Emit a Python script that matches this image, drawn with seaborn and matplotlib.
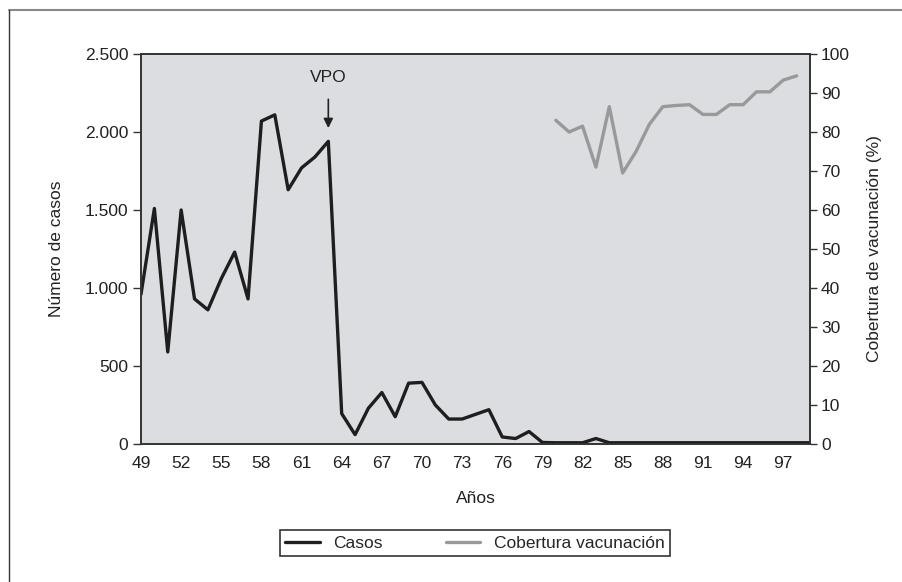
import matplotlib
matplotlib.use("Agg")
import matplotlib.pyplot as plt
from matplotlib.lines import Line2D
import seaborn as sns
import pandas as pd

# ---- data ----
years_casos = list(range(49, 100))
casos = [960, 1510, 590, 1500, 930, 860, 1060, 1230, 930, 2070,
         2110, 1630, 1770, 1840, 1940, 195, 60, 230, 330, 175,
         390, 395, 250, 160, 160, 190, 220, 45, 35, 80,
         10, 8, 8, 8, 35, 8, 8, 8, 8, 8,
         8, 8, 8, 8, 8, 8, 8, 8, 8, 8, 8]
years_vac = list(range(80, 99))
cobertura = [83, 80, 81.5, 71, 86.5, 69.5, 75, 82, 86.5, 86.8,
             87, 84.5, 84.5, 87, 87, 90.3, 90.3, 93.3, 94.4]
left_ticks = [0, 500, 1000, 1500, 2000, 2500]
left_labels = ["0", "500", "1.000", "1.500", "2.000", "2.500"]
x_label_years = list(range(49, 98, 3))

df_c = pd.DataFrame({"year": years_casos, "casos": casos})
df_v = pd.DataFrame({"year": years_vac, "cob": cobertura})

sns.set_theme(style="white")
plt.rcParams["font.family"] = ["Liberation Sans", "DejaVu Sans"]
FS = 12.5
dark = "#333333"
txt = "#222222"

fig = plt.figure(figsize=(9.03, 5.82), dpi=100)
ax = fig.add_axes([141/903, 1-444/582, (810-141)/903, (444-54)/582])
ax.set_facecolor("#dcdde0")

sns.lineplot(data=df_c, x="year", y="casos", ax=ax, color="#1e1e1e", lw=2.4, legend=False)
ax2 = ax.twinx()
sns.lineplot(data=df_v, x="year", y="cob", ax=ax2, color="#999999", lw=2.4, legend=False)

ax.set_xlim(49, 99)
ax.set_ylim(0, 2500)
ax2.set_ylim(0, 100)

ax.set_xticks(x_label_years)
ax.set_xticklabels([str(y) for y in x_label_years], fontsize=FS)
ax.set_xticks(list(range(49, 100)), minor=True)
ax.set_yticks(left_ticks)
ax.set_yticklabels(left_labels, fontsize=FS)
ax2.set_yticks(list(range(0, 101, 10)))
ax2.set_yticklabels([str(v) for v in range(0, 101, 10)], fontsize=FS)

for a in (ax, ax2):
    a.tick_params(axis="both", which="both", direction="out", length=6, width=1,
                  color=dark, labelcolor=txt, pad=3)
    for s in a.spines.values():
        s.set_color(dark)
        s.set_linewidth(1.2)
ax.tick_params(axis="x", which="both", pad=3)
ax2.tick_params(axis="y", length=5)

ax.set_xlabel("Años", fontsize=FS, color=txt, labelpad=14)
ax.set_ylabel("Número de casos", fontsize=FS, color=txt)
ax2.set_ylabel("Cobertura de vacunación (%)", fontsize=FS, color=txt)
ax.yaxis.set_label_coords(-77/669, 0.5)
ax2.yaxis.set_label_coords(1 + 57/669, 0.5)

ax.annotate("VPO", xy=(63, 2025), xytext=(63, 2350), ha="center", va="center",
            fontsize=FS, color=txt,
            arrowprops=dict(arrowstyle="-|>", color=txt, lw=1.2,
                            mutation_scale=14, shrinkA=8, shrinkB=0))

handles = [Line2D([], [], color="#1e1e1e", lw=2.4),
           Line2D([], [], color="#999999", lw=2.4)]
leg = fig.legend(handles, ["Casos", "Cobertura vacunación"], ncol=2,
                 loc="center", bbox_to_anchor=(475/903, 1-543/582),
                 fontsize=FS, frameon=True, fancybox=False, framealpha=1,
                 edgecolor=dark, handlelength=2.0, columnspacing=3.6,
                 handletextpad=0.8, borderpad=0.3, borderaxespad=0)
leg.get_frame().set_linewidth(1.2)

# outer frame (top and left edges)
fig.add_artist(Line2D([9/903, 1], [1-10/582, 1-10/582], color="#888888", lw=1.5,
                      transform=fig.transFigure))
fig.add_artist(Line2D([9/903, 9/903], [0, 1-10/582], color="#333333", lw=1,
                      transform=fig.transFigure))

fig.savefig("out.png", dpi=100)
